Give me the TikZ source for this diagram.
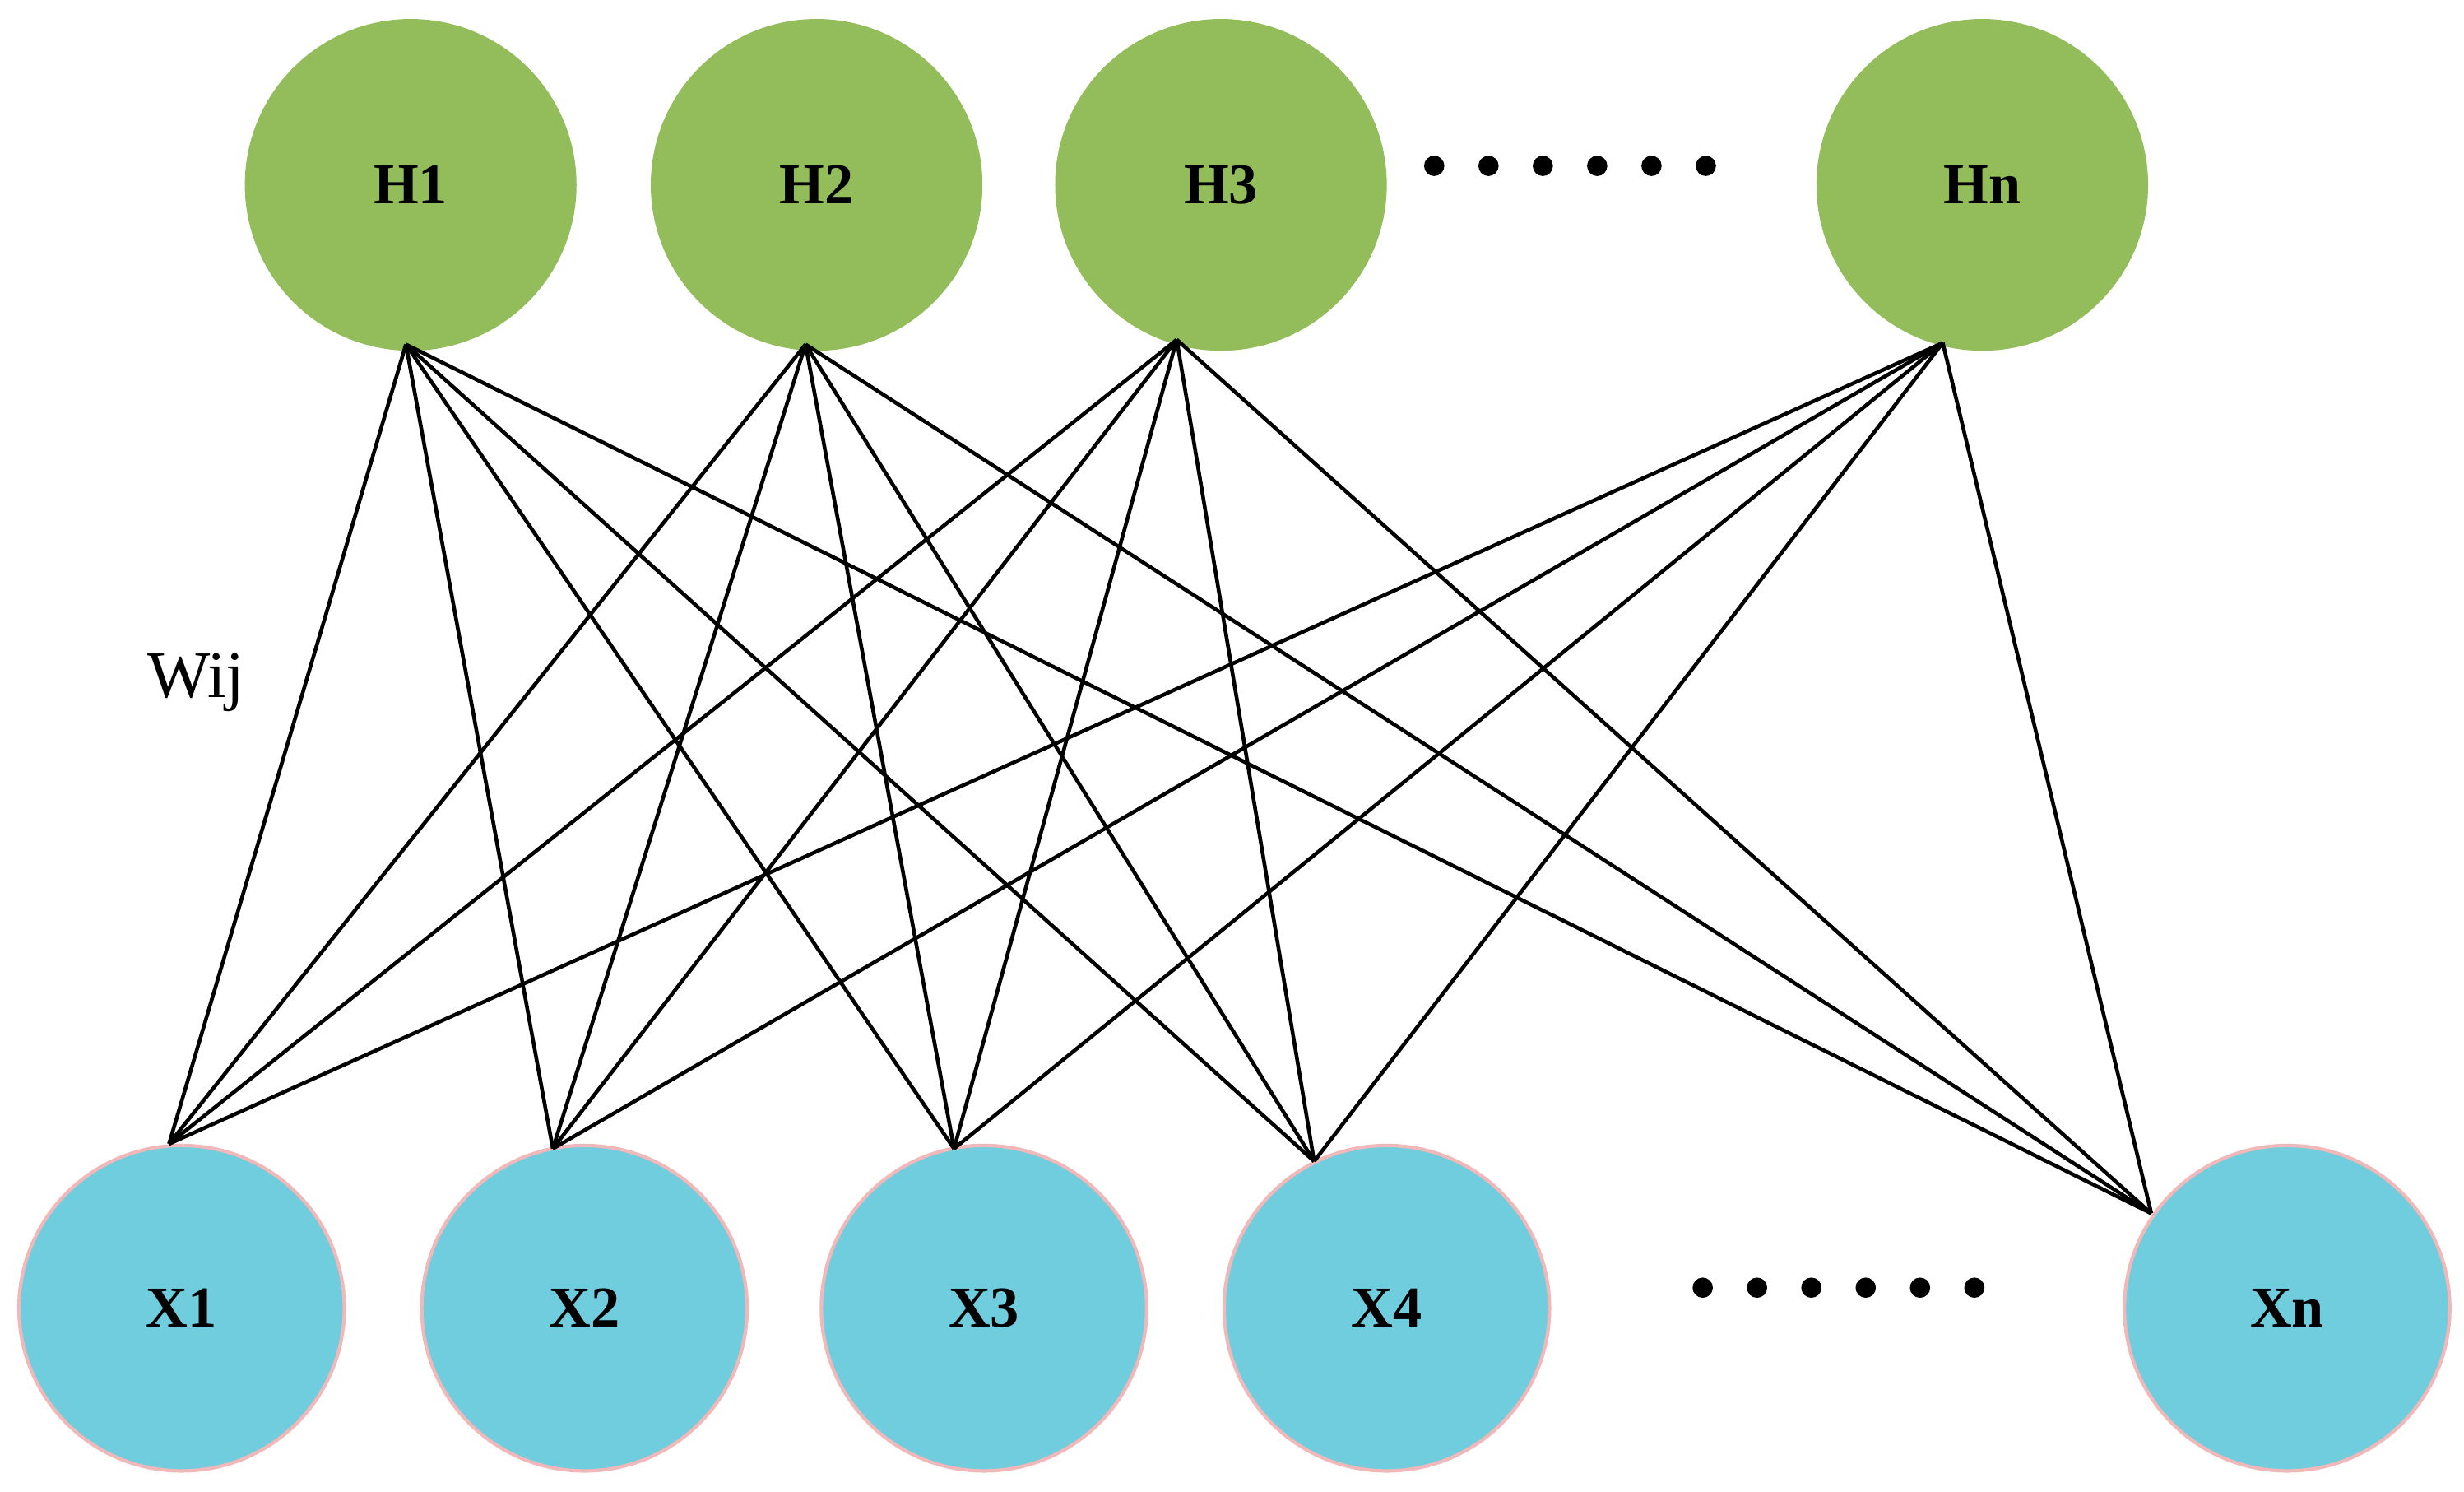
\documentclass[tikz,border=0pt]{standalone}
\usepackage{fontspec}
\setmainfont{Liberation Serif}
\begin{document}
\begin{tikzpicture}[x=0.0192cm,y=-0.0192cm,
 hn/.style={circle,fill=hgreen,draw=none,minimum size=210*0.0192cm,inner sep=0pt,font=\fontsize{20}{24}\selectfont\bfseries},
 xn/.style={circle,fill=xcyan,draw=xpink,line width=1.2pt,minimum size=206*0.0192cm,inner sep=0pt,font=\fontsize{20}{24}\selectfont\bfseries},
 wire/.style={line width=1.3pt,black},
 dot/.style={circle,fill=black,inner sep=0pt,minimum size=7pt}]
\definecolor{hgreen}{HTML}{93BC5B}
\definecolor{xcyan}{HTML}{70CDDE}
\definecolor{xpink}{HTML}{F0B8B8}
\useasboundingbox (0,0) rectangle (1560,944.3);
\node[hn] (H1) at (260,117) {H1};
\node[hn] (H2) at (517,117) {H2};
\node[hn] (H3) at (773,117) {H3};
\node[hn] (Hn) at (1255,117) {Hn};
\node[xn] (X1) at (115,828) {X1};
\node[xn] (X2) at (370,828) {X2};
\node[xn] (X3) at (623,828) {X3};
\node[xn] (X4) at (878,828) {X4};
\node[xn] (Xn) at (1448,828) {Xn};
\coordinate (h1) at (257,218);
\coordinate (h2) at (510,218);
\coordinate (h3) at (745,215);
\coordinate (hn) at (1230,217);
\coordinate (x1) at (107,724);
\coordinate (x2) at (350,727);
\coordinate (x3) at (604,727);
\coordinate (x4) at (832,735);
\coordinate (xn) at (1362,768);
\foreach \a in {h1,h2,h3,hn}{\foreach \b in {x1,x2,x3,x4,xn}{\draw[wire] (\a)--(\b);}}
\foreach \i in {0,...,5}{\node[dot] (td\i) at (908+34.4*\i,105) {};\node[dot] (bd\i) at (1078+34.4*\i,815) {};}
\node[font=\fontsize{23}{27}\selectfont] (w) at (124,432) {Wij};
\end{tikzpicture}
\end{document}
